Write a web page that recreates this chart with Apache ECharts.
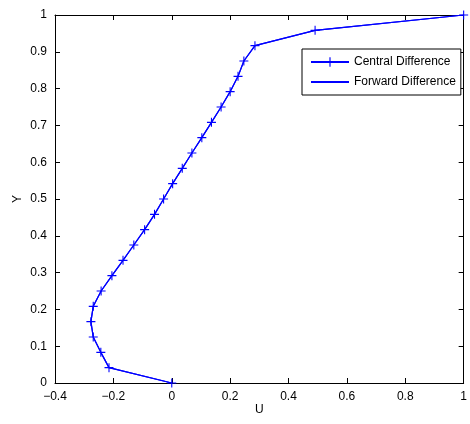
<!DOCTYPE html>
<html>
<head>
<meta charset="utf-8">
<script src="https://cdn.jsdelivr.net/npm/echarts@6/dist/echarts.min.js"></script>
<style>
html,body{margin:0;padding:0;background:#fff;}
#chart{width:470px;height:424px;}
</style>
</head>
<body>
<div id="chart"></div>
<script>
// Y positions (grid nodes)
var yValues = [0, 0.0417, 0.0833, 0.125, 0.1667, 0.2083, 0.25, 0.2917, 0.3333, 0.375, 0.4167, 0.4583, 0.5, 0.5417, 0.5833, 0.625, 0.6667, 0.7083, 0.75, 0.7917, 0.8333, 0.875, 0.9167, 0.9583, 1];
// U values, central difference
var uCentral = [0, -0.215, -0.243, -0.269, -0.277, -0.269, -0.242, -0.205, -0.167, -0.130, -0.093, -0.059, -0.028, 0.003, 0.036, 0.069, 0.103, 0.136, 0.169, 0.200, 0.227, 0.247, 0.285, 0.491, 1];
// U values, forward difference (coincides with central)
var uForward = [0, -0.215, -0.243, -0.269, -0.277, -0.269, -0.242, -0.205, -0.167, -0.130, -0.093, -0.059, -0.028, 0.003, 0.036, 0.069, 0.103, 0.136, 0.169, 0.200, 0.227, 0.247, 0.285, 0.491, 1];
var seriesNames = ['Central Difference', 'Forward Difference'];
var xTickLabels = ['-0.4', '-0.2', '0', '0.2', '0.4', '0.6', '0.8', '1'];
var yTickLabels = ['0', '0.1', '0.2', '0.3', '0.4', '0.5', '0.6', '0.7', '0.8', '0.9', '1'];

function pairs(xs, ys) { return xs.map(function (x, i) { return [x, ys[i]]; }); }

var font = 'Liberation Sans, Arial, Helvetica, sans-serif';
var plus = 'path://M-0.12,-1L0.12,-1L0.12,-0.12L1,-0.12L1,0.12L0.12,0.12L0.12,1L-0.12,1L-0.12,0.12L-1,0.12L-1,-0.12L-0.12,-0.12Z';
var axisLine = { show: true, onZero: false, lineStyle: { color: '#000', width: 1 } };
var tick = { show: true, inside: true, length: 5, lineStyle: { color: '#000', width: 1 } };
var lbl = { color: '#000', fontSize: 12, fontFamily: font, margin: 8 };

var chart = echarts.init(document.getElementById('chart'), null, { renderer: 'canvas' });
chart.setOption({
  animation: false,
  backgroundColor: '#fff',
  grid: { left: 55, top: 15, right: 4, bottom: 41, containLabel: false },
  legend: {
    left: 302, top: 49, orient: 'vertical',
    data: [
      { name: seriesNames[0] },
      { name: seriesNames[1], itemStyle: { opacity: 0 } }
    ],
    itemWidth: 38, itemHeight: 12, itemGap: 8,
    padding: [7, 5, 7, 8],
    borderColor: '#000', borderWidth: 1, backgroundColor: '#fff',
    textStyle: { color: '#000', fontSize: 12, fontFamily: font }
  },
  xAxis: [{
    type: 'value', min: -0.4, max: 1, interval: 0.2, position: 'bottom',
    name: 'U', nameLocation: 'middle', nameGap: 21, nameMoveOverlap: false,
    nameTextStyle: { color: '#000', fontSize: 12, fontFamily: font },
    axisLine: axisLine, axisTick: tick, splitLine: { show: false },
    axisLabel: Object.assign({}, lbl, { formatter: function (v) { var i = Math.round((v + 0.4) / 0.2); return xTickLabels[i] !== undefined ? xTickLabels[i].replace('-', '\u2212') : ''; } })
  }, {
    type: 'value', min: -0.4, max: 1, interval: 0.2, position: 'top',
    axisLine: axisLine, axisTick: tick, splitLine: { show: false }, axisLabel: { show: false }
  }],
  yAxis: [{
    type: 'value', min: 0, max: 1, interval: 0.1, position: 'left',
    name: 'Y', nameLocation: 'middle', nameGap: 31, nameRotate: 90, nameMoveOverlap: false,
    nameTextStyle: { color: '#000', fontSize: 12, fontFamily: font },
    axisLine: axisLine, axisTick: tick, splitLine: { show: false },
    axisLabel: Object.assign({}, lbl, { formatter: function (v) { var i = Math.round(v * 10); return yTickLabels[i] !== undefined ? yTickLabels[i] : ''; } })
  }, {
    type: 'value', min: 0, max: 1, interval: 0.1, position: 'right',
    axisLine: axisLine, axisTick: tick, splitLine: { show: false }, axisLabel: { show: false }
  }],
  series: [{
    name: seriesNames[1], type: 'line', xAxisIndex: 0, yAxisIndex: 0,
    data: pairs(uForward, yValues), symbol: 'none',
    lineStyle: { color: '#0000ff', width: 1.2 }, itemStyle: { color: '#0000ff' }
  }, {
    name: seriesNames[0], type: 'line', xAxisIndex: 0, yAxisIndex: 0,
    data: pairs(uCentral, yValues), symbol: plus, symbolSize: 9, showSymbol: true,
    lineStyle: { color: '#0000ff', width: 1.2 }, itemStyle: { color: '#0000ff', borderWidth: 0 }
  }]
});
</script>
</body>
</html>
